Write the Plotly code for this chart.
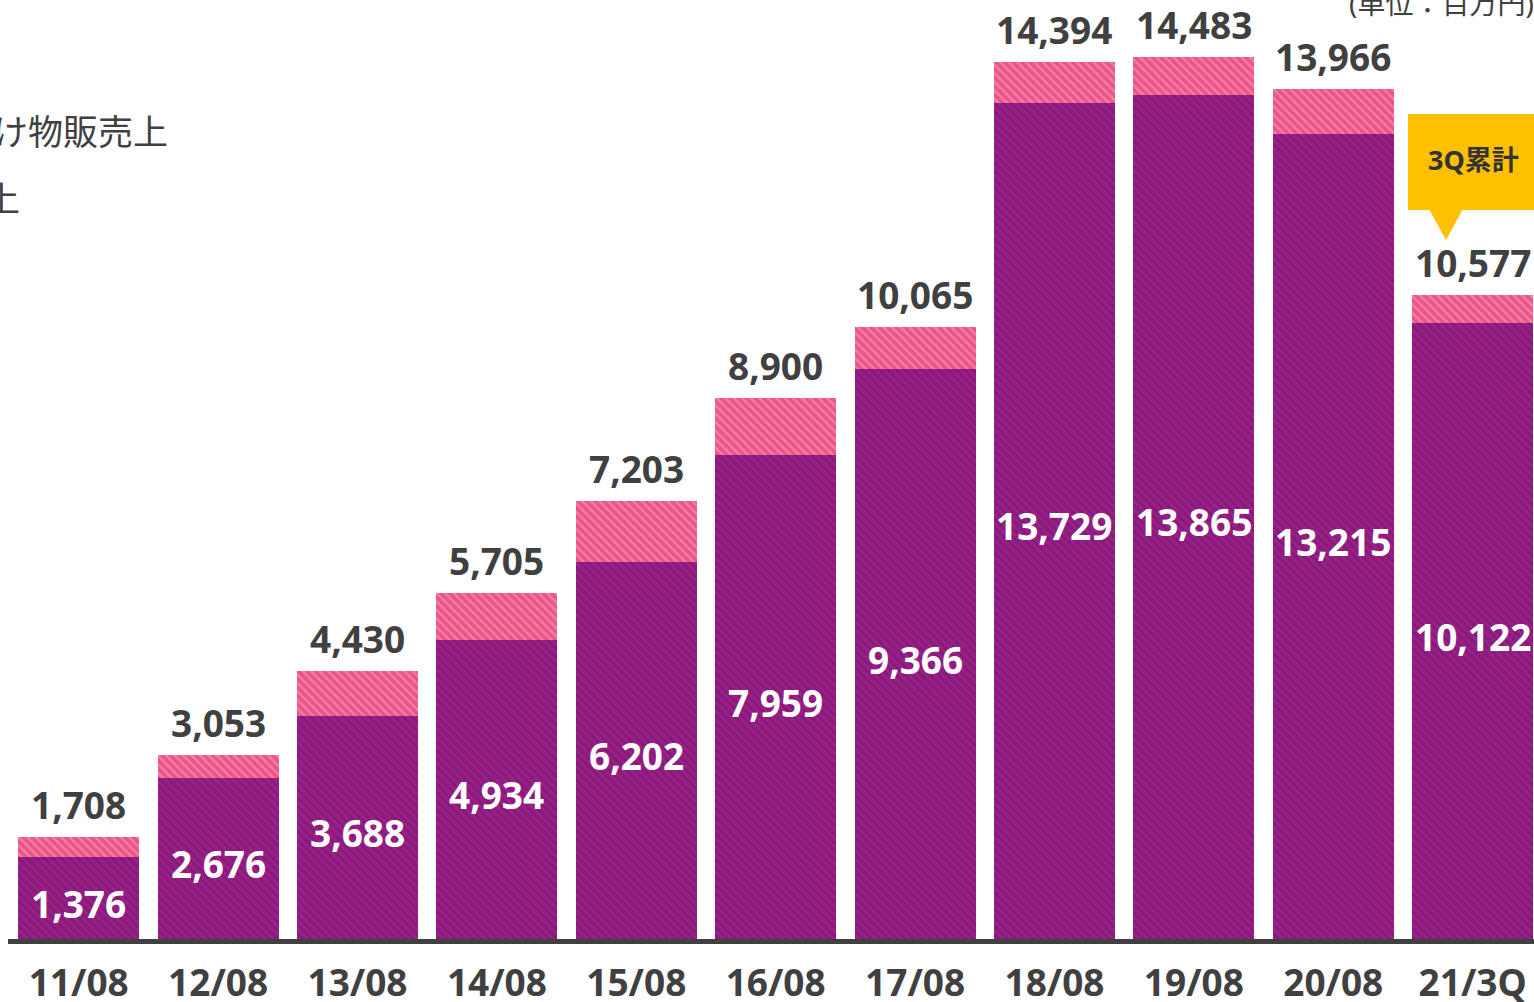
import plotly.graph_objects as go

# data (million yen)
periods = ["11/08", "12/08", "13/08", "14/08", "15/08", "16/08",
           "17/08", "18/08", "19/08", "20/08", "21/3Q"]
merch_sales = [1376, 2676, 3688, 4934, 6202, 7959, 9366, 13729, 13865, 13215, 10122]
other_sales = [332, 377, 742, 771, 1001, 941, 699, 665, 618, 751, 455]
totals = [1708, 3053, 4430, 5705, 7203, 8900, 10065, 14394, 14483, 13966, 10577]

W, H = 1534, 1002
ML, MB = 9, 61
FONT = "Noto Sans, Noto Sans CJK JP, sans-serif"
DARK = "#404040"


def px_x(p):
    return (p - ML) / (W - ML)


def px_y(p):
    return 1 - p / (H - MB)


xs = list(range(len(periods)))

fig = go.Figure()
fig.add_trace(go.Bar(
    x=xs, y=merch_sales, name="加盟店向け物販売上",
    marker=dict(color="#9d1e85", line=dict(width=0),
                pattern=dict(shape="\\", fgcolor="#6a1a76", bgcolor="#9d1e85",
                             size=6, solidity=0.5)),
    hoverinfo="skip",
))
fig.add_trace(go.Bar(
    x=xs, y=other_sales, name="その他売上",
    marker=dict(color="#f47ea7", line=dict(width=0),
                pattern=dict(shape="\\", fgcolor="#e52a68", bgcolor="#f47ea7",
                             size=6, solidity=0.6)),
    hoverinfo="skip",
))

ann = []
for i, (lo, tot) in enumerate(zip(merch_sales, totals)):
    ann.append(dict(x=i, y=lo / 2, xref="x", yref="y", text=f"<b>{lo:,}</b>",
                    showarrow=False, font=dict(size=37, color="white", family=FONT),
                    yshift=-4))
    ann.append(dict(x=i, y=tot, xref="x", yref="y", text=f"<b>{tot:,}</b>",
                    showarrow=False, yanchor="bottom", yshift=5,
                    font=dict(size=37, color=DARK, family=FONT)))

# legend text (cut off at the left edge in the original)
ann.append(dict(x=px_x(170), y=px_y(132), xref="paper", yref="paper",
                text="加盟店向け物販売上", showarrow=False, xanchor="right", yanchor="middle",
                font=dict(size=35, color=DARK, family=FONT)))
ann.append(dict(x=px_x(22), y=px_y(198), xref="paper", yref="paper",
                text="その他売上", showarrow=False, xanchor="right", yanchor="middle",
                font=dict(size=35, color=DARK, family=FONT)))
# unit label
ann.append(dict(x=px_x(1536), y=px_y(3), xref="paper", yref="paper",
                text="(単位：百万円)", showarrow=False, xanchor="right", yanchor="middle",
                font=dict(size=28, color=DARK, family=FONT)))
# callout text
ann.append(dict(x=px_x(1473), y=px_y(160), xref="paper", yref="paper",
                text="<b>3Q累計</b>", showarrow=False, xanchor="center", yanchor="middle",
                font=dict(size=27, color="#333333", family=FONT)))

shapes = [
    dict(type="rect", xref="paper", yref="paper",
         x0=px_x(1408), x1=px_x(1540), y0=px_y(210), y1=px_y(114),
         fillcolor="#ffc000", line=dict(width=0), layer="above"),
    dict(type="path", xref="paper", yref="paper",
         path=f"M {px_x(1429)} {px_y(209)} L {px_x(1463)} {px_y(209)} L {px_x(1446)} {px_y(240)} Z",
         fillcolor="#ffc000", line=dict(width=0), layer="above"),
    dict(type="line", xref="paper", yref="paper",
         x0=px_x(8), x1=px_x(1540), y0=px_y(941.5), y1=px_y(941.5),
         line=dict(color=DARK, width=5), layer="above"),
]

fig.update_layout(
    width=W, height=H,
    barmode="stack", bargap=0.132,
    showlegend=False,
    plot_bgcolor="white", paper_bgcolor="white",
    margin=dict(l=ML, r=0, t=0, b=MB, autoexpand=False),
    font=dict(family=FONT, color=DARK),
    annotations=ann, shapes=shapes,
    xaxis=dict(range=[-0.5, 10.44], tickvals=xs,
               ticktext=[f"<b>{p}</b>" for p in periods],
               tickfont=dict(size=37, color=DARK, family=FONT),
               showgrid=False, zeroline=False, showline=False, ticks="",
               ticklabelstandoff=17, automargin=False, fixedrange=True),
    yaxis=dict(range=[0, 941 / 0.06104], visible=False, showgrid=False,
               zeroline=False, automargin=False, fixedrange=True),
)

fig.write_html("out.html", config={"displayModeBar": False},
               post_script="document.body.style.margin='0';document.body.style.overflow='hidden';")
